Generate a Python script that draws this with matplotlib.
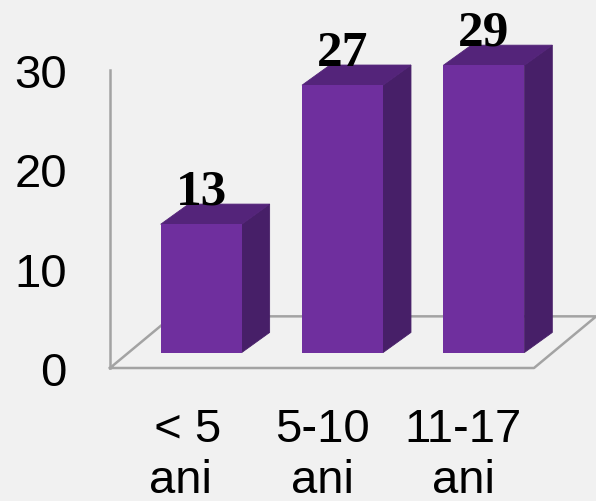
import matplotlib
matplotlib.use("Agg")
import matplotlib.pyplot as plt
from matplotlib.patches import Polygon

categories = [" < 5\nani", "5-10\nani", "11-17\nani"]
values = [13, 27, 29]
y_ticks = [0, 10, 20, 30]

W, H = 596, 502
BG = "#f1f1f1"
FRONT = "#6f2f9e"
TOP = "#54247a"
SIDE = "#471f68"
GRID = "#a3a3a3"

# bar geometry, in axis units (1 category = 141.3 px, 1 y unit = 9.93 px)
bar_shift = 0.145
bar_w = 0.573
bar_base = 1.55
dx = 0.198
dy = 2.03
floor_dx = 0.44
floor_dy = 5.2

fig = plt.figure(figsize=(W / 100, H / 100), dpi=100, facecolor=BG)
ax = fig.add_axes([110 / W, 1 - 369 / H, 424 / W, 298 / H])
ax.set_facecolor("none")
ax.set_xlim(-0.5, 2.5)
ax.set_ylim(0, 30)
for s in ax.spines.values():
    s.set_visible(False)

# -----------------------------
# back wall line and floor
# -----------------------------
ax.plot([-0.5, -0.5], [0, 30], color=GRID, lw=1.8, clip_on=False, zorder=1)
ax.plot([-0.5, 2.5, 2.5 + floor_dx, -0.5 + floor_dx, -0.5],
        [0, 0, floor_dy, floor_dy, 0],
        color=GRID, lw=1.8, clip_on=False, zorder=1)

# -----------------------------
# 3d bars
# -----------------------------
for i, v in enumerate(values):
    x0 = i + bar_shift - bar_w / 2
    x1 = x0 + bar_w
    y0 = bar_base
    y1 = bar_base + v - 0.08
    ax.add_patch(Polygon([(x1, y0), (x1 + dx, y0 + dy), (x1 + dx, y1 + dy), (x1, y1)],
                         fc=SIDE, ec=SIDE, lw=0.6, clip_on=False, zorder=2))
    ax.add_patch(Polygon([(x0, y1), (x0 + dx, y1 + dy), (x1 + dx, y1 + dy), (x1, y1)],
                         fc=TOP, ec=TOP, lw=0.6, clip_on=False, zorder=2))
    ax.bar(x0, y1 - y0, width=bar_w, bottom=y0, align="edge", color=FRONT, clip_on=False, zorder=3)
    ax.text(i + bar_shift, y1 + dy + 0.05, str(v), ha="center", va="baseline",
            family="Liberation Serif", weight="bold", fontsize=37, color="black",
            clip_on=False, zorder=4)

ax.set_yticks(y_ticks)
ax.set_xticks(range(len(categories)))
ax.set_xticklabels(categories, family="Liberation Sans", fontsize=34, linespacing=1.2)
ax.set_yticklabels([str(t) for t in y_ticks], family="Liberation Sans", fontsize=34)
ax.tick_params(axis="both", length=0)
ax.tick_params(axis="x", pad=28)
ax.tick_params(axis="y", pad=31)

fig.savefig("out.png", dpi=100, facecolor=BG)
